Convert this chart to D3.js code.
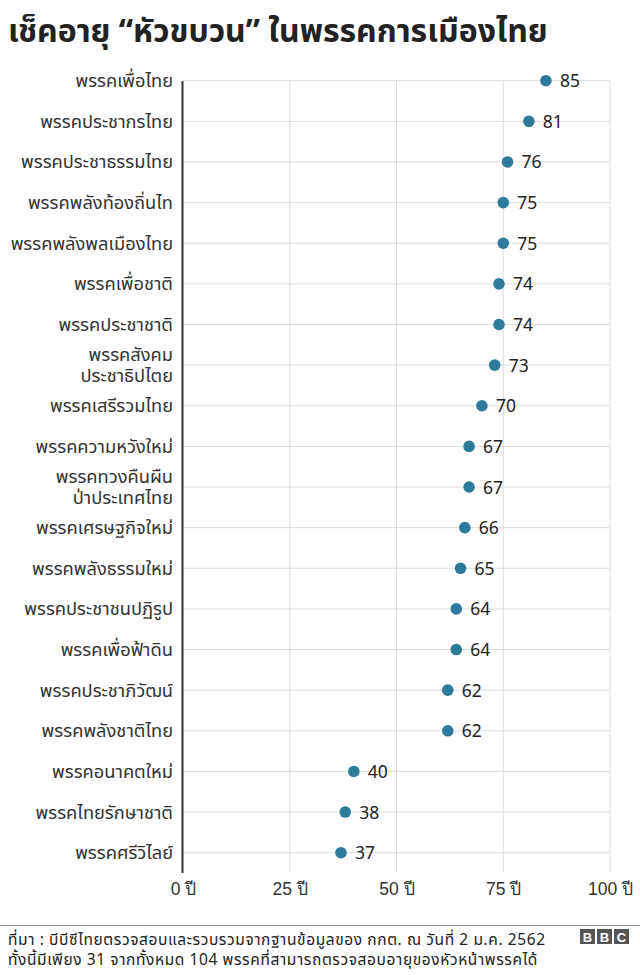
<!DOCTYPE html>
<html><head><meta charset="utf-8">
<script src="https://cdn.jsdelivr.net/npm/d3@7"></script>
<style>
html,body{margin:0;padding:0;background:#fff;}
svg{display:block;font-family:"Noto Sans Thai","Tahoma","DejaVu Sans",sans-serif;}
</style></head><body>
<svg id="c" width="640" height="975"></svg>
<script>
const parties = [
  ["พรรคเพื่อไทย"],
  ["พรรคประชากรไทย"],
  ["พรรคประชาธรรมไทย"],
  ["พรรคพลังท้องถิ่นไท"],
  ["พรรคพลังพลเมืองไทย"],
  ["พรรคเพื่อชาติ"],
  ["พรรคประชาชาติ"],
  ["พรรคสังคม","ประชาธิปไตย"],
  ["พรรคเสรีรวมไทย"],
  ["พรรคความหวังใหม่"],
  ["พรรคทวงคืนผืน","ป่าประเทศไทย"],
  ["พรรคเศรษฐกิจใหม่"],
  ["พรรคพลังธรรมใหม่"],
  ["พรรคประชาชนปฏิรูป"],
  ["พรรคเพื่อฟ้าดิน"],
  ["พรรคประชาภิวัฒน์"],
  ["พรรคพลังชาติไทย"],
  ["พรรคอนาคตใหม่"],
  ["พรรคไทยรักษาชาติ"],
  ["พรรคศรีวิไลย์"]
];
const ages = [85,81,76,75,75,74,74,73,70,67,67,66,65,64,64,62,62,40,38,37];
const xTicks = [0,25,50,75,100];
const tickSuffix = " ปี";
const title = "เช็คอายุ “หัวขบวน” ในพรรคการเมืองไทย";
const footer = ["ที่มา : บีบีซีไทยตรวจสอบและรวบรวมจากฐานข้อมูลของ กกต. ณ วันที่ 2 ม.ค. 2562",
                "ทั้งนี้มีเพียง 31 จากทั้งหมด 104 พรรคที่สามารถตรวจสอบอายุของหัวหน้าพรรคได้"];

const svg = d3.select("#c");
const x = d3.scaleLinear().domain([0,100]).range([183,610]);
const y = d3.scalePoint().domain(d3.range(parties.length)).range([80.7,852.7]);

svg.append("text").attr("x",8).attr("y",42).attr("font-size",32).attr("font-weight","bold")
  .attr("fill","#222").text(title);

const xAxis = d3.axisBottom(x).tickValues(xTicks).tickSize(0).tickFormat(d=>d+tickSuffix);
const gx = svg.append("g").attr("transform","translate(0,873)").call(xAxis);
gx.select(".domain").remove();
gx.selectAll("text").attr("font-size",17.5).attr("fill","#333").attr("dy",0).attr("y",22).style("font-family","inherit");

svg.append("g").selectAll("line").data(xTicks.filter(d=>d>0)).join("line")
  .attr("x1",d=>x(d)).attr("x2",d=>x(d)).attr("y1",80.7).attr("y2",873)
  .attr("stroke","#ddd").attr("stroke-width",1);
svg.append("g").selectAll("line").data(d3.range(parties.length)).join("line")
  .attr("x1",x(0)).attr("x2",x(100)).attr("y1",d=>y(d)).attr("y2",d=>y(d))
  .attr("stroke","#ddd").attr("stroke-width",1);
svg.append("line").attr("x1",182.5).attr("x2",182.5).attr("y1",81).attr("y2",873)
  .attr("stroke","#333").attr("stroke-width",2);

const lab = svg.append("g").selectAll("text").data(parties).join("text")
  .attr("x",173).attr("text-anchor","end").attr("font-size",18.3).attr("fill","#333");
lab.each(function(d,i){
  const t = d3.select(this);
  const n = d.length;
  d.forEach((s,k)=>{
    t.append("tspan").attr("x",173).attr("y", y(i) + 6.5 + (k-(n-1)/2)*21.5).text(s);
  });
});

svg.append("g").selectAll("circle").data(ages).join("circle")
  .attr("cx",d=>x(d)).attr("cy",(d,i)=>y(i)).attr("r",5.8).attr("fill","#2e7a9b");
svg.append("g").selectAll("text").data(ages).join("text")
  .attr("x",d=>x(d)+14).attr("y",(d,i)=>y(i)+6.5).attr("font-size",17.5).attr("fill","#222").text(d=>d);

svg.append("line").attr("x1",0).attr("x2",640).attr("y1",925.5).attr("y2",925.5).attr("stroke","#999").attr("stroke-width",1);
svg.append("g").selectAll("text").data(footer).join("text")
  .attr("x",8).attr("y",(d,i)=>945+i*19.5).attr("font-size",15.5).attr("letter-spacing",0.6)
  .attr("fill","#222").text(d=>d);
const logo = svg.append("g");
["B","B","C"].forEach((c,i)=>{
  logo.append("rect").attr("x",580+i*17).attr("y",929).attr("width",15).attr("height",15).attr("fill","#555");
  logo.append("text").attr("x",580+i*17+7.5).attr("y",941.5).attr("text-anchor","middle")
    .attr("font-size",13).attr("font-weight","bold").attr("fill","#fff")
    .style("font-family","Arial, 'Liberation Sans', sans-serif").text(c);
});
</script></body></html>
